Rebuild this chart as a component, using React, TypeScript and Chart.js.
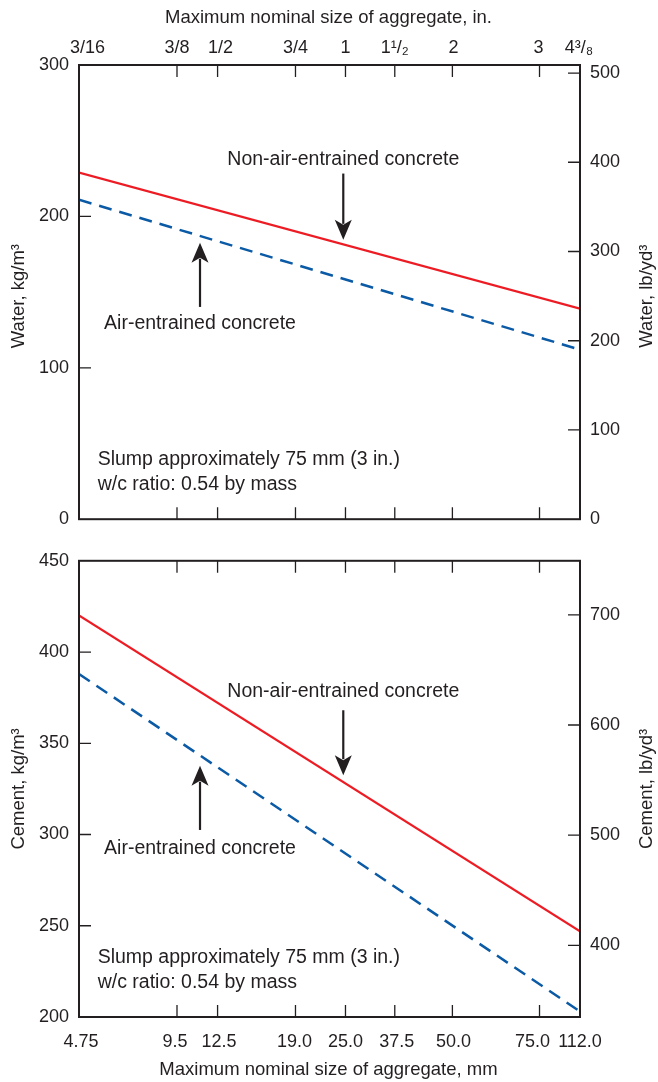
import React, { useEffect, useRef } from 'react';
import { Chart, registerables, LinearScale } from 'chart.js';

Chart.register(...registerables);

// ---------------- data ----------------
const SIZE_TICKS_MM = [4.75, 9.5, 12.5, 19.0, 25.0, 37.5, 50.0, 75.0, 112.0];
const SIZE_LABELS_MM = ['4.75', '9.5', '12.5', '19.0', '25.0', '37.5', '50.0', '75.0', '112.0'];
const SIZE_LABELS_IN = ['3/16', '3/8', '1/2', '3/4', '1', '1¹/₂', '2', '3', '4³/₈'];

const LINE_SIZES_MM = [4.75, 112.0];
const WATER_NON_AIR = [229, 139];
const WATER_AIR = [211, 112];
const CEMENT_NON_AIR = [420, 247];
const CEMENT_AIR = [388, 203];

const WATER_KG_TICKS = [0, 100, 200, 300];
const WATER_LB_TICKS = [0, 100, 200, 300, 400, 500];
const CEMENT_KG_TICKS = [200, 250, 300, 350, 400, 450];
const CEMENT_LB_TICKS = [400, 500, 600, 700];

const WATER_KG_RANGE = [0, 300];
const WATER_LB_RANGE = [0, 509];
const CEMENT_KG_RANGE = [200, 450];
const CEMENT_LB_RANGE = [335, 749];

const SERIES_NAMES = ['Non-air-entrained concrete', 'Air-entrained concrete'];
const SLUMP_NOTE = ['Slump approximately 75 mm (3 in.)', 'w/c ratio: 0.54 by mass'];
const X_TITLE_IN = 'Maximum nominal size of aggregate, in.';
const X_TITLE_MM = 'Maximum nominal size of aggregate, mm';

// ---------------- styling / layout ----------------
const INK = '#231f20';
const RED = '#ed1c24';
const BLUE = '#0b5aa6';
const FONT = '"Liberation Sans", Arial, Helvetica, sans-serif';
const TICK_LEN = 12;
// placement of the sieve sizes along the printed (non-uniform) size axis
const SIZE_AXIS_FRACTION = [0, 0.1956, 0.2766, 0.4321, 0.5319, 0.6303, 0.7453, 0.9192, 1];
// small horizontal nudges of the printed tick labels (px)
const LABEL_NUDGE_MM = [2, -2, 1.5, -1, 0, 2, 1, -7, 0];
const LABEL_NUDGE_IN = [8.5, 0, 3, 0, 0, 0, 1, -1, -1];

function sizeFraction(v: number): number {
  const lv = Math.log10(v);
  const n = SIZE_TICKS_MM.length;
  for (let i = 0; i < n - 1; i++) {
    const a = Math.log10(SIZE_TICKS_MM[i]);
    const b = Math.log10(SIZE_TICKS_MM[i + 1]);
    if (lv <= b || i === n - 2) {
      return SIZE_AXIS_FRACTION[i] + ((lv - a) / (b - a)) * (SIZE_AXIS_FRACTION[i + 1] - SIZE_AXIS_FRACTION[i]);
    }
  }
  return 0;
}
function sizeFromFraction(f: number): number {
  const n = SIZE_TICKS_MM.length;
  for (let i = 0; i < n - 1; i++) {
    const fa = SIZE_AXIS_FRACTION[i];
    const fb = SIZE_AXIS_FRACTION[i + 1];
    if (f <= fb || i === n - 2) {
      const a = Math.log10(SIZE_TICKS_MM[i]);
      const b = Math.log10(SIZE_TICKS_MM[i + 1]);
      return Math.pow(10, a + ((f - fa) / (fb - fa)) * (b - a));
    }
  }
  return SIZE_TICKS_MM[0];
}

class AggregateSizeScale extends LinearScale {
  static id = 'aggregateSize';
  static defaults = {};
  buildTicks() {
    (this as any).start = (this as any).min;
    (this as any).end = (this as any).max;
    return SIZE_TICKS_MM.map((value) => ({ value }));
  }
  getPixelForValue(value: number) {
    return (this as any).getPixelForDecimal(sizeFraction(value));
  }
  getValueForPixel(pixel: number) {
    return sizeFromFraction((this as any).getDecimalForPixel(pixel));
  }
}
Chart.register(AggregateSizeScale as any);

type Note = { text: string; x: number; y: number; align: CanvasTextAlign };
type Arrow = { x: number; from: number; to: number };
type Panel = {
  kgTicks: number[];
  lbTicks: number[];
  kgRange: number[];
  lbRange: number[];
  non: number[];
  air: number[];
  labelsOn: 'top' | 'bottom';
  topBand: number;
  bottomBand: number;
  topTitle: string | null;
  bottomTitle: string | null;
  leftTitle: string;
  rightTitle: string;
  titleShift: number;
  notes: Note[];
  arrows: Arrow[];
};

const WATER_PANEL: Panel = {
  kgTicks: WATER_KG_TICKS,
  lbTicks: WATER_LB_TICKS,
  kgRange: WATER_KG_RANGE,
  lbRange: WATER_LB_RANGE,
  non: WATER_NON_AIR,
  air: WATER_AIR,
  labelsOn: 'top',
  topBand: 65,
  bottomBand: 15,
  topTitle: X_TITLE_IN,
  bottomTitle: null,
  leftTitle: 'Water, kg/m³',
  rightTitle: 'Water, lb/yd³',
  titleShift: 4,
  notes: [
    { text: SERIES_NAMES[0], x: 24.7, y: 237.6, align: 'center' },
    { text: SERIES_NAMES[1], x: 11.1, y: 129.2, align: 'center' },
    { text: SLUMP_NOTE[0], x: 5.42, y: 39.1, align: 'left' },
    { text: SLUMP_NOTE[1], x: 5.42, y: 22.8, align: 'left' },
  ],
  arrows: [
    { x: 24.7, from: 228.3, to: 184.5 },
    { x: 11.1, from: 140.2, to: 182.6 },
  ],
};

const CEMENT_PANEL: Panel = {
  kgTicks: CEMENT_KG_TICKS,
  lbTicks: CEMENT_LB_TICKS,
  kgRange: CEMENT_KG_RANGE,
  lbRange: CEMENT_LB_RANGE,
  non: CEMENT_NON_AIR,
  air: CEMENT_AIR,
  labelsOn: 'bottom',
  topBand: 16,
  bottomBand: 65,
  topTitle: null,
  bottomTitle: X_TITLE_MM,
  leftTitle: 'Cement, kg/m³',
  rightTitle: 'Cement, lb/yd³',
  titleShift: 0,
  notes: [
    { text: SERIES_NAMES[0], x: 24.7, y: 378.3, align: 'center' },
    { text: SERIES_NAMES[1], x: 11.1, y: 292.2, align: 'center' },
    { text: SLUMP_NOTE[0], x: 5.42, y: 232.5, align: 'left' },
    { text: SLUMP_NOTE[1], x: 5.42, y: 219.0, align: 'left' },
  ],
  arrows: [
    { x: 24.7, from: 368.1, to: 332.5 },
    { x: 11.1, from: 302.5, to: 337.7 },
  ],
};

function drawArrow(ctx: CanvasRenderingContext2D, px: number, y0: number, y1: number) {
  const dir = Math.sign(y1 - y0);
  const headLen = 20;
  const half = 8.5;
  const back = y1 - dir * headLen;
  ctx.lineWidth = 2.2;
  ctx.beginPath();
  ctx.moveTo(px, y0);
  ctx.lineTo(px, back + dir * 4);
  ctx.stroke();
  ctx.beginPath();
  ctx.moveTo(px, y1);
  ctx.lineTo(px - half, back);
  ctx.lineTo(px, back + dir * 5);
  ctx.lineTo(px + half, back);
  ctx.closePath();
  ctx.fill();
}

function decorPlugin(panel: Panel) {
  return {
    id: 'decor',
    afterDraw(chart: any) {
      const { ctx, chartArea: a, scales } = chart;
      const xs = scales.x;
      const ys = scales.y;
      const ys2 = scales.y2;
      ctx.save();
      ctx.strokeStyle = INK;
      ctx.fillStyle = INK;
      // inward tick marks
      ctx.lineWidth = 1.3;
      ctx.beginPath();
      SIZE_TICKS_MM.forEach((v) => {
        const px = xs.getPixelForValue(v);
        if (px <= a.left + 1 || px >= a.right - 1) return;
        ctx.moveTo(px, a.top);
        ctx.lineTo(px, a.top + TICK_LEN);
        ctx.moveTo(px, a.bottom);
        ctx.lineTo(px, a.bottom - TICK_LEN);
      });
      panel.kgTicks.forEach((v) => {
        const py = ys.getPixelForValue(v);
        if (py <= a.top + 1 || py >= a.bottom - 1) return;
        ctx.moveTo(a.left, py);
        ctx.lineTo(a.left + TICK_LEN, py);
      });
      panel.lbTicks.forEach((v) => {
        const py = ys2.getPixelForValue(v);
        if (py <= a.top + 1 || py >= a.bottom - 1) return;
        ctx.moveTo(a.right, py);
        ctx.lineTo(a.right - TICK_LEN, py);
      });
      ctx.stroke();
      // frame
      ctx.lineWidth = 2;
      ctx.strokeRect(a.left, a.top, a.right - a.left, a.bottom - a.top);
      // size-axis tick labels
      ctx.font = `18px ${FONT}`;
      ctx.textAlign = 'center';
      ctx.textBaseline = 'middle';
      SIZE_TICKS_MM.forEach((v, i) => {
        const px = xs.getPixelForValue(v);
        if (panel.labelsOn === 'top') {
          ctx.fillText(SIZE_LABELS_IN[i], px + LABEL_NUDGE_IN[i], a.top - 17);
        } else {
          ctx.fillText(SIZE_LABELS_MM[i], px + LABEL_NUDGE_MM[i], a.bottom + 25);
        }
      });
      // axis titles
      ctx.font = `18.5px ${FONT}`;
      const cx = (a.left + a.right) / 2 - 1;
      if (panel.topTitle) ctx.fillText(panel.topTitle, cx, a.top - 47);
      if (panel.bottomTitle) ctx.fillText(panel.bottomTitle, cx, a.bottom + 53);
      const cy = (a.top + a.bottom) / 2 + panel.titleShift;
      const rot = (text: string, x: number) => {
        ctx.save();
        ctx.translate(x, cy);
        ctx.rotate(-Math.PI / 2);
        ctx.fillText(text, 0, 0);
        ctx.restore();
      };
      rot(panel.leftTitle, a.left - 60);
      rot(panel.rightTitle, a.right + 67);
      // annotations
      ctx.font = `19.5px ${FONT}`;
      panel.notes.forEach((n) => {
        ctx.textAlign = n.align;
        ctx.fillText(n.text, xs.getPixelForValue(n.x), ys.getPixelForValue(n.y));
      });
      panel.arrows.forEach((ar) => {
        drawArrow(ctx, xs.getPixelForValue(ar.x), ys.getPixelForValue(ar.from), ys.getPixelForValue(ar.to));
      });
      ctx.restore();
    },
  };
}

function buildChart(canvas: HTMLCanvasElement, panel: Panel) {
  const tickFont = { family: FONT, size: 18 };
  const noGrid = { display: false, drawTicks: false };
  const noBorder = { display: false };
  const setTicks = (vals: number[]) => (s: any) => {
    s.ticks = vals.map((value) => ({ value }));
  };
  const sizeAxis = (position: string, band: number) => ({
    type: 'aggregateSize' as any,
    position,
    min: SIZE_TICKS_MM[0],
    max: SIZE_TICKS_MM[SIZE_TICKS_MM.length - 1],
    grid: noGrid,
    border: noBorder,
    ticks: { display: false, autoSkip: false, maxRotation: 0, minRotation: 0 },
    afterFit: (s: any) => {
      s.height = band;
    },
  });
  return new Chart(canvas, {
    type: 'line',
    data: {
      datasets: [
        {
          label: SERIES_NAMES[0],
          data: LINE_SIZES_MM.map((x, i) => ({ x, y: panel.non[i] })),
          borderColor: RED,
          borderWidth: 2.2,
          pointRadius: 0,
          fill: false,
          tension: 0,
        },
        {
          label: SERIES_NAMES[1],
          data: LINE_SIZES_MM.map((x, i) => ({ x, y: panel.air[i] })),
          borderColor: BLUE,
          borderWidth: 2.5,
          borderDash: [13, 8],
          pointRadius: 0,
          fill: false,
          tension: 0,
        },
      ],
    },
    options: {
      animation: false,
      responsive: false,
      devicePixelRatio: 1,
      layout: { padding: 0 },
      plugins: { legend: { display: false }, tooltip: { enabled: false } },
      scales: {
        x: sizeAxis('bottom', panel.bottomBand),
        xTop: sizeAxis('top', panel.topBand),
        y: {
          type: 'linear',
          position: 'left',
          min: panel.kgRange[0],
          max: panel.kgRange[1],
          grid: noGrid,
          border: noBorder,
          afterBuildTicks: setTicks(panel.kgTicks),
          ticks: { padding: 10, font: tickFont, color: INK, autoSkip: false },
          afterFit: (s: any) => {
            s.width = 79;
          },
        },
        y2: {
          type: 'linear',
          position: 'right',
          min: panel.lbRange[0],
          max: panel.lbRange[1],
          grid: noGrid,
          border: noBorder,
          afterBuildTicks: setTicks(panel.lbTicks),
          ticks: { padding: 10, font: tickFont, color: INK, autoSkip: false },
          afterFit: (s: any) => {
            s.width = 78;
          },
        },
      },
    } as any,
    plugins: [decorPlugin(panel)],
  });
}

export default function App() {
  const topRef = useRef<HTMLCanvasElement>(null);
  const botRef = useRef<HTMLCanvasElement>(null);
  useEffect(() => {
    const c1 = buildChart(topRef.current as HTMLCanvasElement, WATER_PANEL);
    const c2 = buildChart(botRef.current as HTMLCanvasElement, CEMENT_PANEL);
    return () => {
      c1.destroy();
      c2.destroy();
    };
  }, []);
  return (
    <div
      style={{
        position: 'absolute',
        left: 0,
        top: 0,
        width: 658,
        height: 1082,
        background: '#ffffff',
        overflow: 'hidden',
      }}
    >
      <canvas
        ref={topRef}
        width={658}
        height={540}
        style={{ position: 'absolute', left: 0, top: 0, width: 658, height: 540 }}
      />
      <canvas
        ref={botRef}
        width={658}
        height={542}
        style={{ position: 'absolute', left: 0, top: 540, width: 658, height: 542 }}
      />
    </div>
  );
}
